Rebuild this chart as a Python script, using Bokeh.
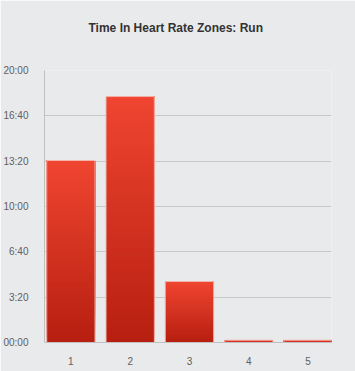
from bokeh.plotting import figure
from bokeh.models import FixedTicker, ColumnDataSource, Title
from bokeh.embed import file_html
from bokeh.resources import INLINE

title_text = "Time In Heart Rate Zones: Run"
zones = ["1", "2", "3", "4", "5"]
seconds = [803, 1085, 269, 10, 10]
tick_values = [0, 200, 400, 600, 800, 1000, 1200]
tick_labels = ["00:00", "3:20", "6:40", "10:00", "13:20", "16:40", "20:00"]

BG = "#e9eaec"
FONT = "Liberation Sans"
positions = list(range(1, len(zones) + 1))

p = figure(x_range=(0.555, 5.395), y_range=(0, 1200), width=355, height=371,
           output_backend="svg", toolbar_location=None,
           min_border_left=43, min_border_right=24, min_border_top=70, min_border_bottom=29)
p.background_fill_color = BG
p.border_fill_color = BG
p.outline_line_color = None

p.title.text = title_text
p.title.align = "left"
p.title.vertical_align = "top"
p.title.standoff = 40
p.title.offset = 44
p.title.text_font = FONT
p.title.text_font_size = "12px"
p.title.text_font_style = "bold"
p.title.text_color = "#333333"

# spacer between the frame and the visible title
p.add_layout(Title(text=" ", text_font_size="1px", standoff=11), "above")

# gradient bars: stacked layers, each from a fraction of the value up to its top
N = 60
top_c = (239, 69, 49)
bot_c = (183, 31, 16)
xs, bots, tops, cols = [], [], [], []
for i in range(N):
    f = i / (N - 1)
    c = "#%02x%02x%02x" % tuple(int(round(bot_c[k] + (top_c[k] - bot_c[k]) * f)) for k in range(3))
    for x, v in zip(positions, seconds):
        xs.append(x)
        bots.append(v * i / N)
        tops.append(v)
        cols.append(c)
src = ColumnDataSource(dict(x=xs, bottom=bots, top=tops, color=cols))
p.vbar(x="x", bottom="bottom", top="top", width=0.815, source=src,
       fill_color="color", line_color=None)
p.vbar(x=positions, top=seconds, bottom=0, width=0.815, fill_color=None,
       line_color="#f2b5ac", line_width=1)

p.xgrid.grid_line_color = None
p.ygrid.ticker = FixedTicker(ticks=tick_values[1:-1])
p.ygrid.grid_line_color = "#c8c8c8"
p.ygrid.grid_line_width = 1

p.xaxis.ticker = FixedTicker(ticks=positions)
p.xaxis.major_label_overrides = {x: z for x, z in zip(positions, zones)}
p.yaxis.ticker = FixedTicker(ticks=tick_values)
p.yaxis.major_label_overrides = {t: l for t, l in zip(tick_values, tick_labels)}
for ax in (p.xaxis[0], p.yaxis[0]):
    ax.axis_line_color = "#c0c0c0"
    ax.major_tick_line_color = None
    ax.minor_tick_line_color = None
    ax.major_label_text_font = FONT
    ax.major_label_text_font_size = "10px"
    ax.major_label_text_color = "#606060"
p.yaxis.major_label_standoff = 10
p.xaxis.major_label_standoff = 8

open("out.html", "w").write(file_html(p, INLINE))
